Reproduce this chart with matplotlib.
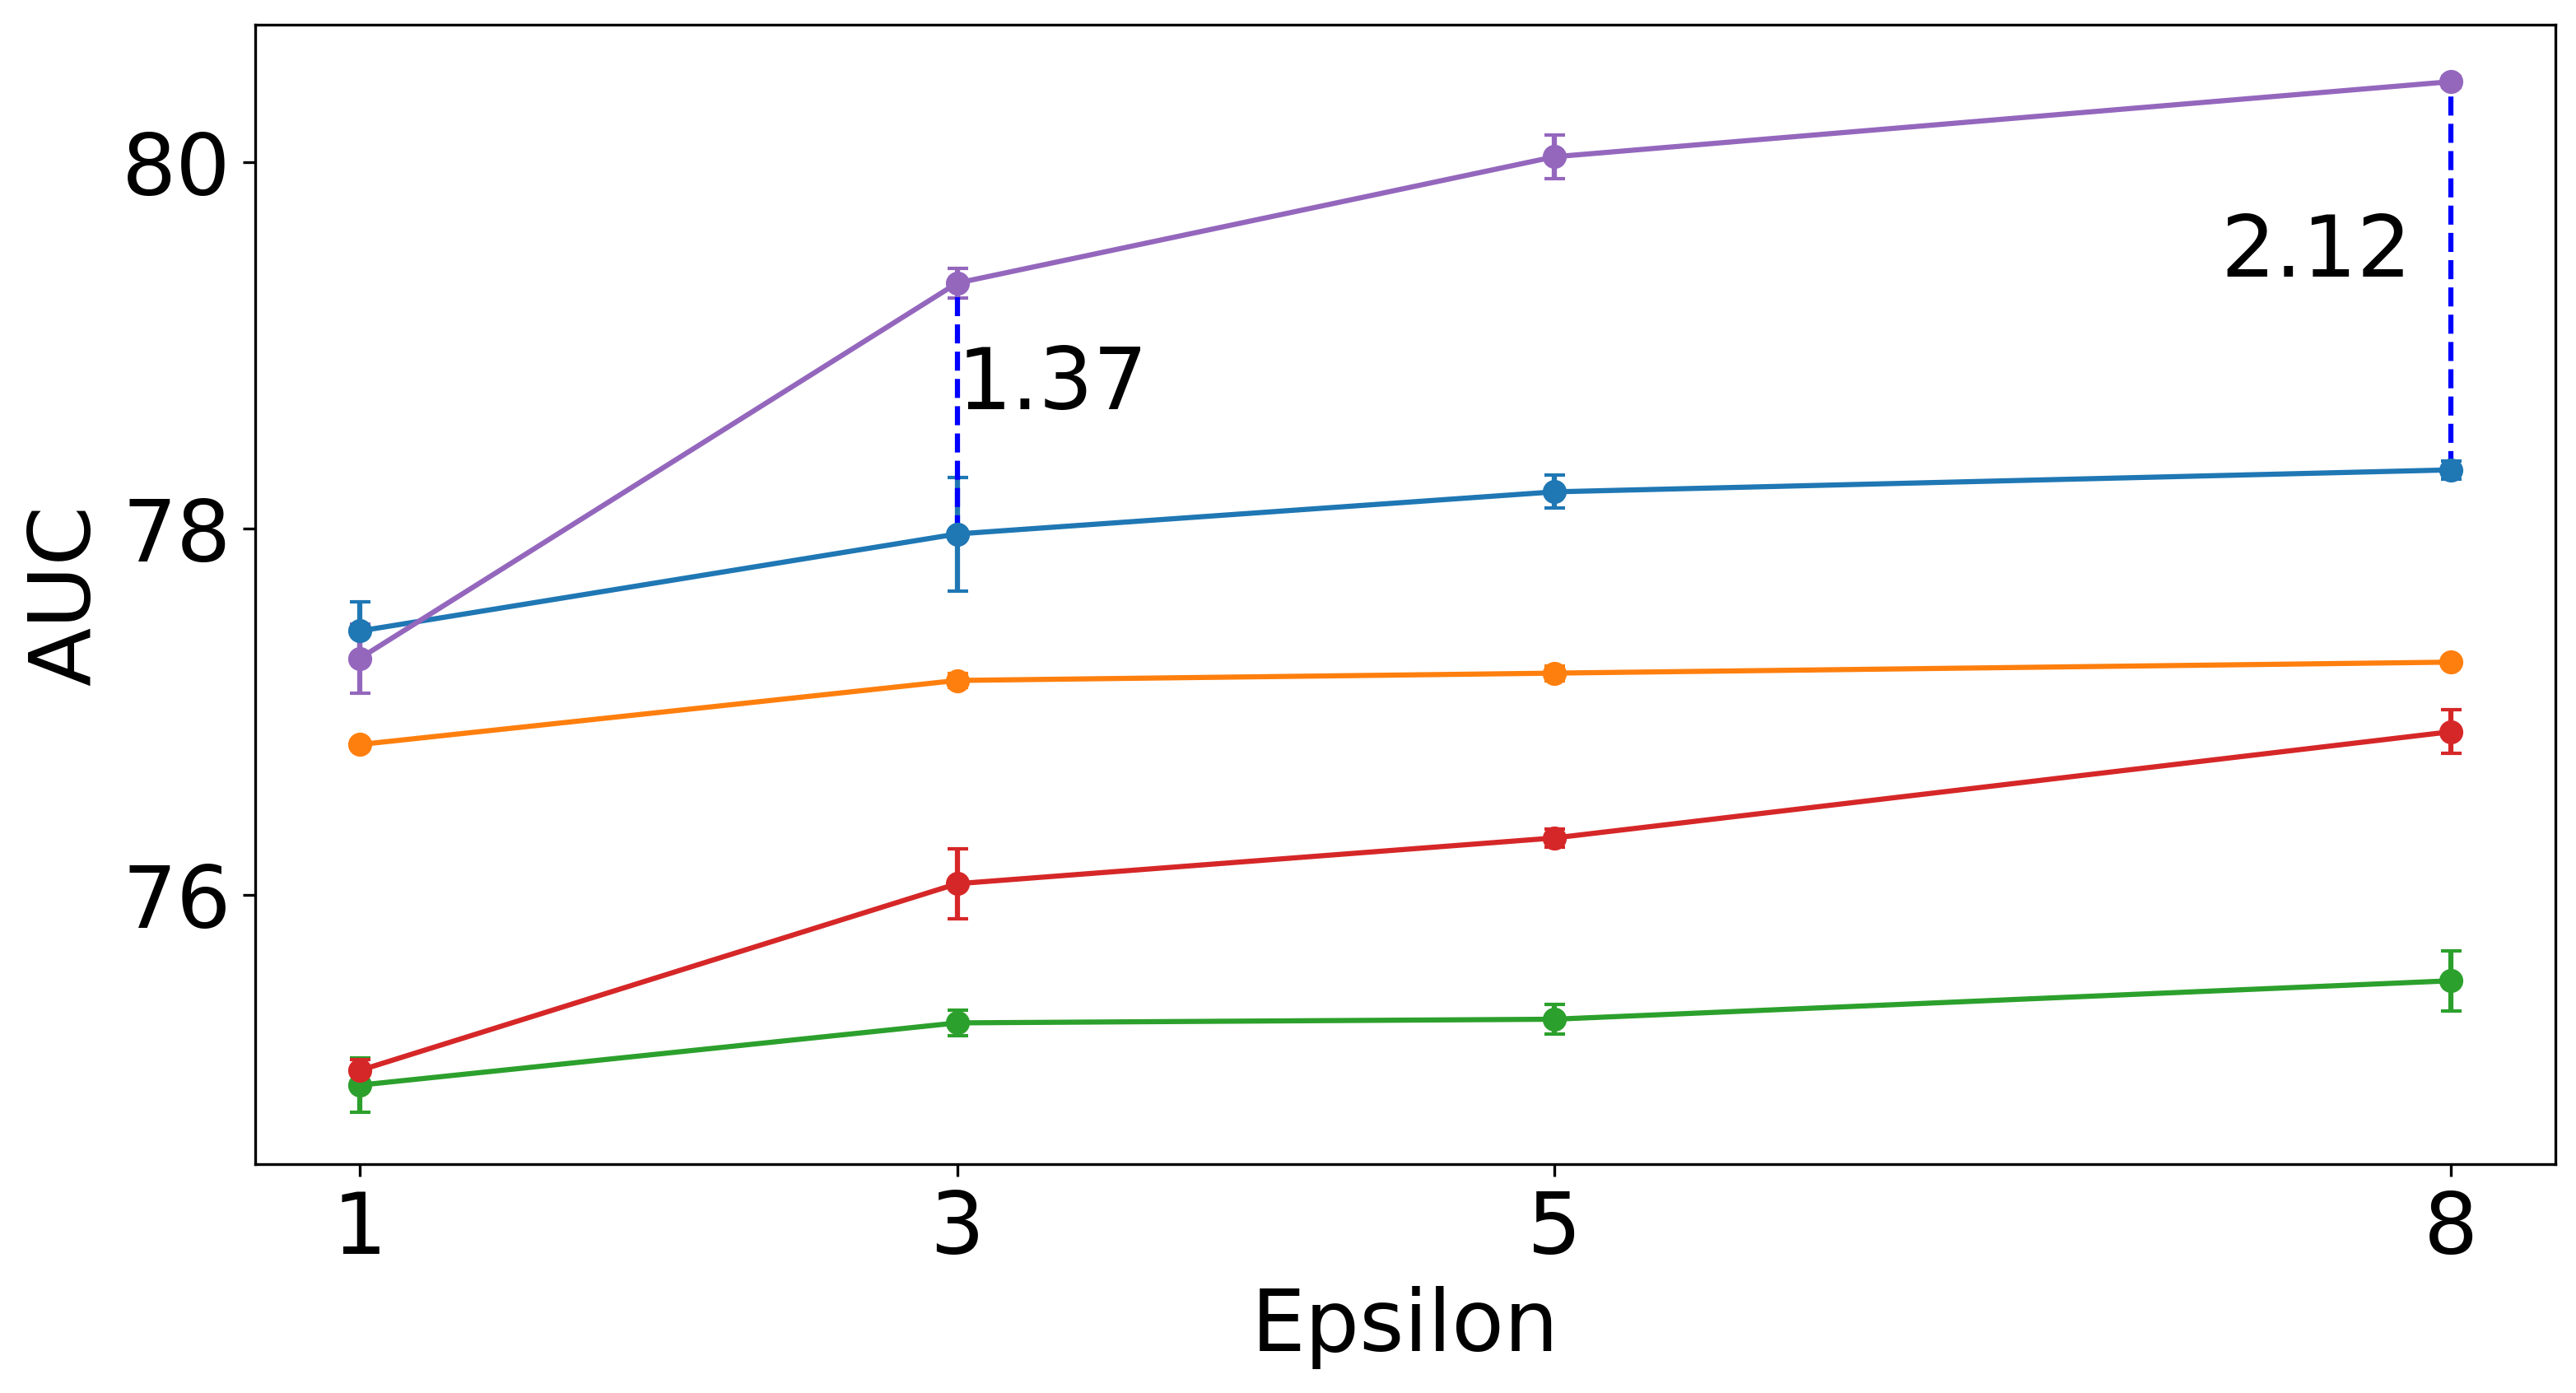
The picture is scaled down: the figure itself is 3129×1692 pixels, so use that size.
import numpy as np
import matplotlib
matplotlib.use("Agg")
import matplotlib.pyplot as plt

# x values (epsilon)
eps = [1, 3, 5, 8]

# AUC means and std for each method (C0..C4 order)
auc_blue = [77.44, 77.97, 78.20, 78.32]
err_blue = [0.16, 0.31, 0.09, 0.05]
auc_orange = [76.82, 77.17, 77.21, 77.27]
err_orange = [0.02, 0.04, 0.04, 0.02]
auc_green = [74.96, 75.30, 75.32, 75.53]
err_green = [0.15, 0.07, 0.08, 0.165]
auc_red = [75.04, 76.06, 76.31, 76.89]
err_red = [0.06, 0.19, 0.05, 0.12]
auc_purple = [77.29, 79.34, 80.03, 80.44]
err_purple = [0.19, 0.08, 0.12, 0.03]

fig = plt.figure(figsize=(10.43, 5.643), dpi=300)
ax = fig.add_subplot(111)
fig.subplots_adjust(left=0.099, right=0.992, top=0.982, bottom=0.164)

ax.errorbar(eps, auc_blue, yerr=err_blue, fmt="-o", color="C0", capsize=3)
ax.errorbar(eps, auc_orange, yerr=err_orange, fmt="-o", color="C1", capsize=3)
ax.errorbar(eps, auc_green, yerr=err_green, fmt="-o", color="C2", capsize=3)
ax.errorbar(eps, auc_red, yerr=err_red, fmt="-o", color="C3", capsize=3)
ax.errorbar(eps, auc_purple, yerr=err_purple, fmt="-o", color="C4", capsize=3)

# gap annotations between purple and blue
for i, ha, dx in [(1, "left", 0.0), (3, "right", -0.13)]:
    lo = auc_blue[i]
    hi = auc_purple[i]
    ax.plot([eps[i], eps[i]], [lo, hi], "b--", lw=1.5)
    ax.text(eps[i] + dx, (lo + hi) / 2, "%.2f" % (hi - lo), ha=ha, fontsize=25)

ax.set_xticks(eps)
ax.set_yticks([76, 78, 80])
ax.tick_params(labelsize=25)
ax.set_xlabel("Epsilon", fontsize=25)
ax.set_ylabel("AUC", fontsize=25)

plt.savefig("out.png", dpi=300)
